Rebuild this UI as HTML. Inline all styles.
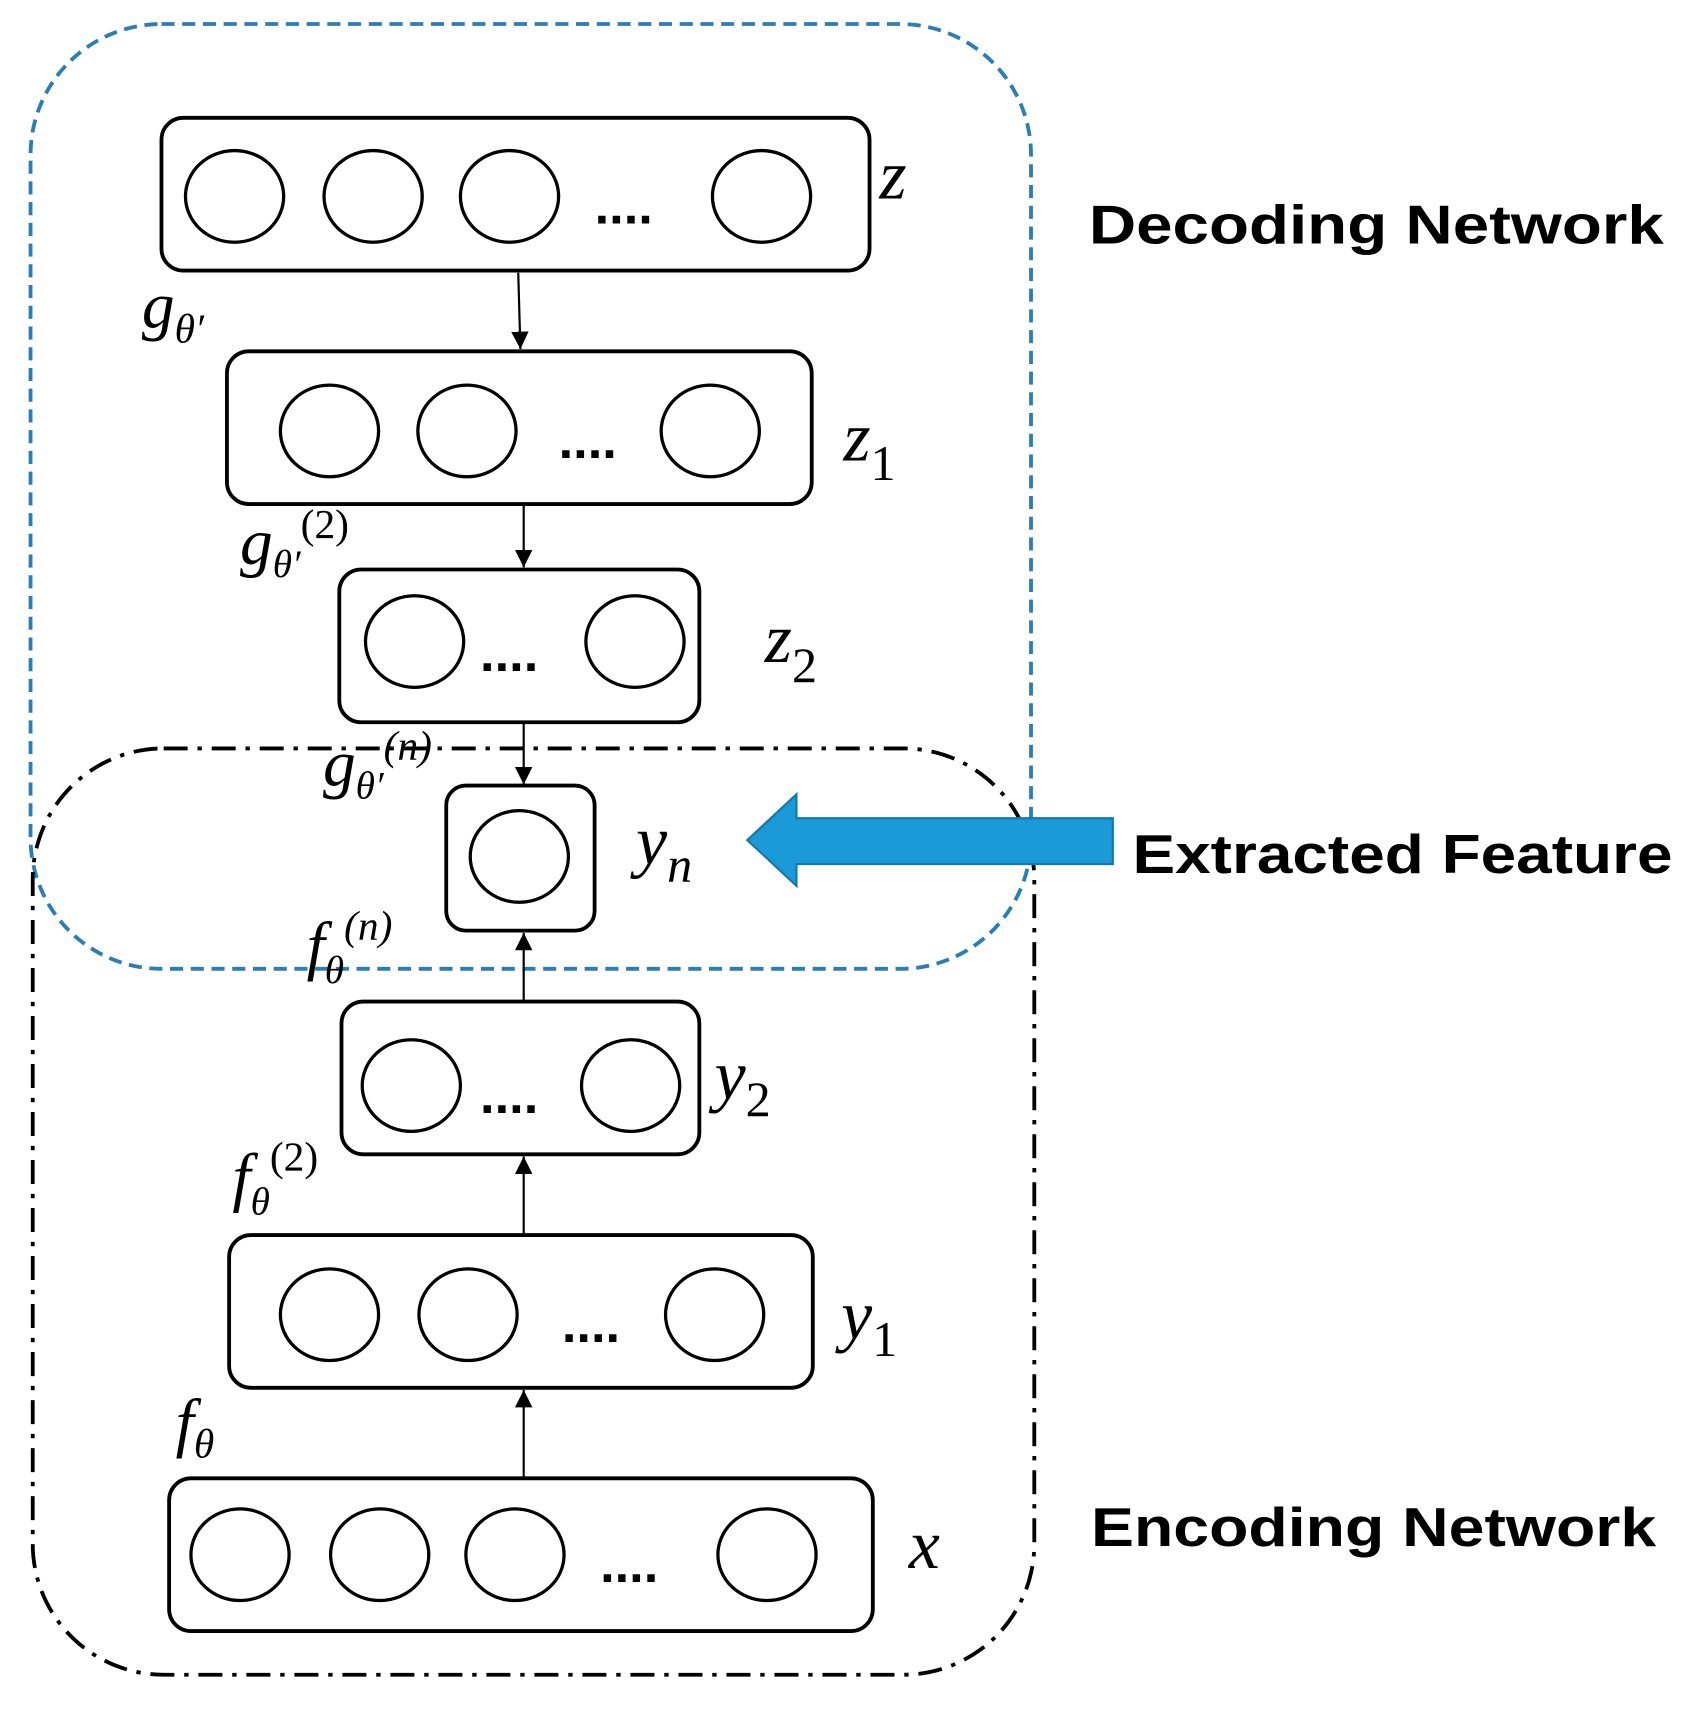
<!DOCTYPE html>
<html><head><style>html,body{margin:0;padding:0;background:#fff}svg{display:block}</style></head>
<body>
<svg width="1702" height="1720" viewBox="0 0 1560 1576.5" preserveAspectRatio="none" xmlns="http://www.w3.org/2000/svg">
<defs>
<marker id="a" viewBox="0 0 10 10" markerWidth="16" markerHeight="20" refX="10" refY="5" orient="auto" markerUnits="userSpaceOnUse"><path d="M0,0 L10,5 L0,10 z" fill="#000"/></marker></defs>
<g fill="none" stroke-width="3.5">
<rect x="28" y="22" width="917" height="866" rx="120" stroke="#2a7db5" stroke-dasharray="12,7"/>
<rect x="30" y="686" width="918" height="849" rx="120" stroke="#000" stroke-dasharray="22,9,4,9"/>
</g>
<g fill="#fff" stroke="#000" stroke-width="3.5">
<rect x="148" y="108" width="649" height="140" rx="20"/>
<rect x="208" y="322" width="536" height="140" rx="20"/>
<rect x="311" y="522" width="330" height="140" rx="20"/>
<rect x="409" y="720" width="136" height="133" rx="18"/>
<rect x="313" y="918" width="328" height="140" rx="20"/>
<rect x="210" y="1132" width="535" height="140" rx="20"/>
<rect x="155" y="1355" width="645" height="140" rx="20"/>
</g>
<g fill="none" stroke="#000" stroke-width="3">
<ellipse cx="215" cy="180" rx="45" ry="42"/><ellipse cx="342" cy="180" rx="45" ry="42"/><ellipse cx="467" cy="180" rx="45" ry="42"/><ellipse cx="698" cy="180" rx="45" ry="42"/>
<ellipse cx="302" cy="395" rx="45" ry="42"/><ellipse cx="428" cy="395" rx="45" ry="42"/><ellipse cx="651" cy="395" rx="45" ry="42"/>
<ellipse cx="380" cy="588" rx="45" ry="42"/><ellipse cx="582" cy="588" rx="45" ry="42"/>
<ellipse cx="476" cy="785" rx="45" ry="42"/>
<ellipse cx="377" cy="995" rx="45" ry="42"/><ellipse cx="578" cy="995" rx="45" ry="42"/>
<ellipse cx="302" cy="1205" rx="45" ry="42"/><ellipse cx="429" cy="1205" rx="45" ry="42"/><ellipse cx="655" cy="1205" rx="45" ry="42"/>
<ellipse cx="220" cy="1425" rx="45" ry="42"/><ellipse cx="348" cy="1425" rx="45" ry="42"/><ellipse cx="472" cy="1425" rx="45" ry="42"/><ellipse cx="703" cy="1425" rx="45" ry="42"/>
</g>
<g stroke="#000" stroke-width="2" marker-end="url(#a)">
<line x1="475" y1="250" x2="477" y2="320"/>
<line x1="480" y1="462" x2="480" y2="520"/>
<line x1="480" y1="662" x2="480" y2="719"/>
<line x1="480" y1="918" x2="480" y2="855"/>
<line x1="480" y1="1132" x2="480" y2="1060"/>
<line x1="480" y1="1355" x2="480" y2="1274"/>
</g>
<g font-family="Liberation Sans, sans-serif" font-size="48" font-weight="bold" fill="#000">
<text x="545" y="205">....</text><text x="512" y="420">....</text><text x="440" y="615">....</text>
<text x="440" y="1020">....</text><text x="515" y="1230">....</text><text x="550" y="1450">....</text>
</g>
<polygon points="685,770 730,728 730,750 1020,750 1020,792 730,792 730,812" fill="#1a9ad6" stroke="#1577b0" stroke-width="2"/>
<g font-family="Liberation Serif, serif" font-style="italic" fill="#000">
<text x="806" y="182" font-size="64">z</text>
<text x="773" y="422" font-size="64">z<tspan font-size="46" font-style="normal" dy="18">1</tspan></text>
<text x="701" y="607" font-size="64">z<tspan font-size="46" font-style="normal" dy="18">2</tspan></text>
<text x="583" y="792" font-size="64">y<tspan font-size="46" dy="16">n</tspan></text>
<text x="655" y="1007" font-size="64">y<tspan font-size="46" font-style="normal" dy="16">2</tspan></text>
<text x="771" y="1227" font-size="64">y<tspan font-size="46" font-style="normal" dy="16">1</tspan></text>
<text x="833" y="1437" font-size="64">x</text>
<text x="130" y="300" font-size="60">g<tspan font-size="38" dy="14">θ′</tspan></text>
<text x="220" y="517" font-size="60">g<tspan font-size="36" dy="12">θ′</tspan><tspan font-size="38" font-style="normal" dy="-36">(2)</tspan></text>
<text x="296" y="720" font-size="60">g<tspan font-size="36" dy="12">θ′</tspan><tspan font-size="38" dy="-36">(n)</tspan></text>
<text x="281" y="887" font-size="60">f<tspan font-size="36" dy="14">θ</tspan><tspan font-size="38" dy="-40">(n)</tspan></text>
<text x="213" y="1099" font-size="60">f<tspan font-size="36" dy="14">θ</tspan><tspan font-size="38" font-style="normal" dy="-40">(2)</tspan></text>
<text x="161" y="1324" font-size="60">f<tspan font-size="38" dy="12">θ</tspan></text>
</g>
<g font-family="Liberation Sans, sans-serif" font-weight="bold" font-size="50" fill="#000">
<text x="998" y="223" textLength="527" lengthAdjust="spacingAndGlyphs">Decoding Network</text>
<text x="1038" y="800" textLength="495" lengthAdjust="spacingAndGlyphs">Extracted Feature</text>
<text x="1000" y="1417" textLength="518" lengthAdjust="spacingAndGlyphs">Encoding Network</text>
</g>
</svg>
</body></html>
